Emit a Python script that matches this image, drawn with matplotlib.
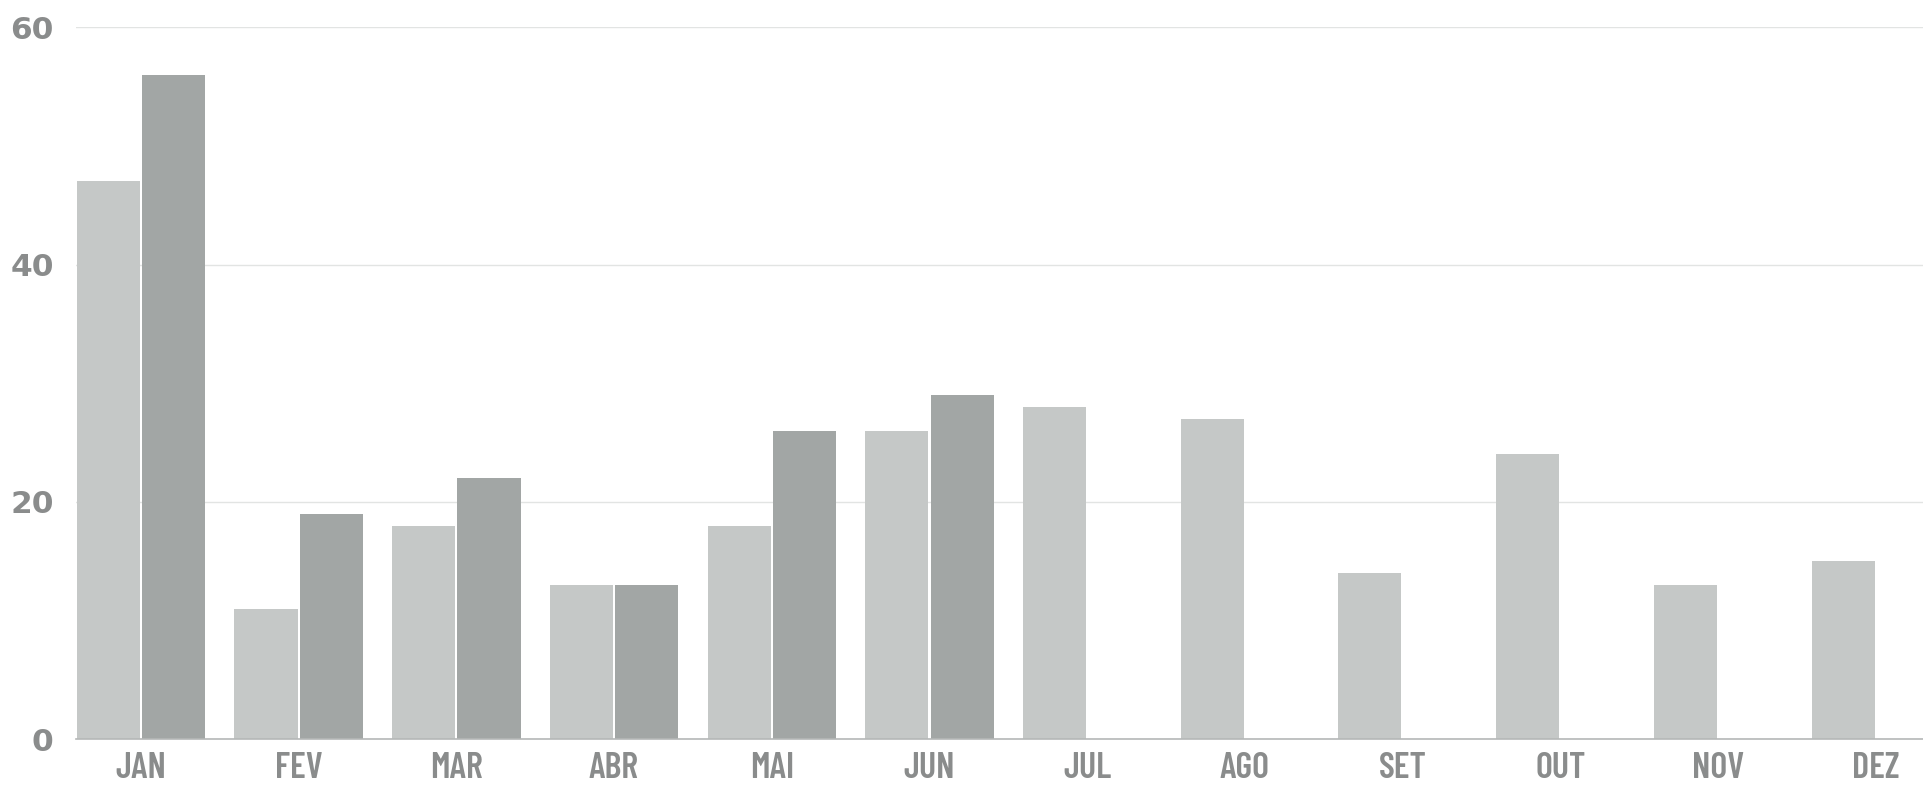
import matplotlib
matplotlib.use("Agg")
import matplotlib.pyplot as plt
import numpy as np

months = ["JAN", "FEV", "MAR", "ABR", "MAI", "JUN", "JUL", "AGO", "SET", "OUT", "NOV", "DEZ"]
series_a = [47, 11, 18, 13, 18, 26, 28, 27, 14, 24, 13, 15]
series_b = [56, 19, 22, 13, 26, 29]
yticks = [0, 20, 40, 60]

light = "#c5c8c7"
dark = "#a2a6a5"
text_c = "#8a8c8c"

fig = plt.figure(figsize=(19.23, 7.86), dpi=100)
ax = fig.add_axes([0.0395, 0.0592, 0.9605, 0.9064])

x = np.arange(len(months))
w = 0.40
off = 0.207
ax.bar(x - off, series_a, width=w, color=light, zorder=2)
xb = np.arange(len(series_b))
ax.bar(xb + off, series_b, width=w, color=dark, zorder=2)

ax.set_xlim(-0.412, 11.30)
ax.set_ylim(0, 60)
ax.set_yticks(yticks)
ax.set_yticklabels([str(t) for t in yticks])
ax.set_xticks(x)
ax.set_xticklabels(months)

for s in ["top", "right", "left"]:
    ax.spines[s].set_visible(False)
ax.spines["bottom"].set_color("#b5b8b7")
ax.spines["bottom"].set_linewidth(1.2)
ax.spines["bottom"].set_zorder(3)

ax.grid(axis="y", color="#e2e4e3", linewidth=1.0, zorder=0)
ax.set_axisbelow(True)
ax.tick_params(axis="both", length=0)
ax.tick_params(axis="y", pad=16)
ax.tick_params(axis="x", pad=9)

for lab in ax.get_yticklabels():
    lab.set_fontsize(22.5)
    lab.set_fontweight("bold")
    lab.set_color(text_c)
    lab.set_family(["DejaVu Sans"])
for lab in ax.get_xticklabels():
    lab.set_fontsize(26)
    lab.set_fontweight("semibold")
    lab.set_color(text_c)
    lab.set_family(["Barlow Condensed", "DejaVu Sans"])

fig.savefig("out.png", dpi=100, facecolor="white")
